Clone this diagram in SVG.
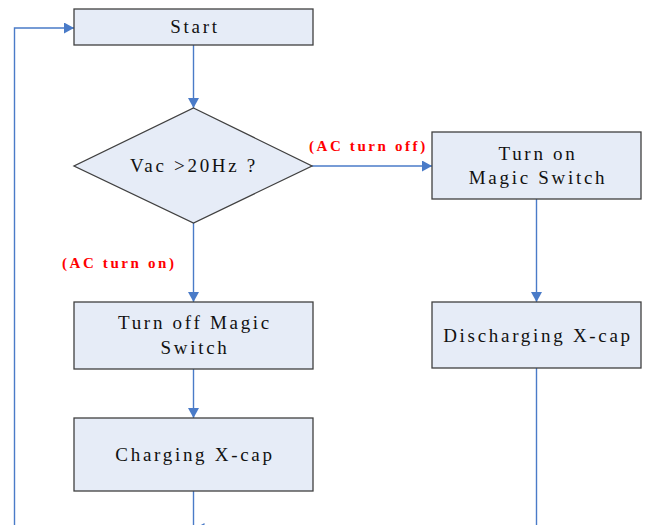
<svg xmlns="http://www.w3.org/2000/svg" width="646" height="525" viewBox="0 0 646 525">
<style>
.box{fill:#E6ECF7;stroke:#404040;stroke-width:1.3}
.t{font-family:"Liberation Serif","Times New Roman",serif;font-size:19px;letter-spacing:2.7px;fill:#111;text-anchor:middle}
.lbl{font-family:"Liberation Serif","Times New Roman",serif;font-size:15px;font-weight:bold;letter-spacing:2.6px;fill:#FF0000}
.c{fill:none;stroke:#4A7BC8;stroke-width:1.4}
</style>
<defs>
<marker id="ah" markerUnits="userSpaceOnUse" markerWidth="11" markerHeight="11" refX="10" refY="5.5" orient="auto">
<path d="M0,0 L10,5.5 L0,11 z" fill="#4A7BC8"/>
</marker>
</defs>
<rect width="646" height="525" fill="#ffffff"/>
<g id="connectors">
<path class="c" d="M193.5,45 V108" marker-end="url(#ah)"/>
<path class="c" d="M312,166 H432" marker-end="url(#ah)"/>
<path class="c" d="M193.5,223 V302" marker-end="url(#ah)"/>
<path class="c" d="M536.5,199 V302" marker-end="url(#ah)"/>
<path class="c" d="M193.5,369 V418" marker-end="url(#ah)"/>
<path class="c" d="M193.5,491 V560"/>
<path class="c" d="M536.5,368 V528.5 H194.5" marker-end="url(#ah)"/>
<path class="c" d="M14.5,560 V28 H74" marker-end="url(#ah)"/>
<text class="lbl" x="309" y="151">(AC turn off)</text>
<text class="lbl" x="62" y="268">(AC turn on)</text>
</g>
<g id="start">
<rect class="box" x="74" y="9" width="239" height="36"/>
<text class="t" x="195" y="33">Start</text>
</g>
<g id="decision">
<polygon class="box" points="193.5,108 312,166 193.5,223 74,166"/>
<text class="t" x="194" y="172">Vac &gt;20Hz ?</text>
</g>
<g id="turn-on">
<rect class="box" x="432" y="132" width="209" height="67"/>
<text class="t" x="538" y="160">Turn on</text>
<text class="t" x="538" y="184">Magic Switch</text>
</g>
<g id="discharging">
<rect class="box" x="432" y="302" width="209" height="66"/>
<text class="t" x="538" y="342">Discharging X-cap</text>
</g>
<g id="turn-off">
<rect class="box" x="74" y="302" width="239" height="67"/>
<text class="t" x="195" y="329">Turn off Magic</text>
<text class="t" x="195" y="354">Switch</text>
</g>
<g id="charging">
<rect class="box" x="74" y="418" width="239" height="73"/>
<text class="t" x="195" y="461">Charging X-cap</text>
</g>
</svg>
